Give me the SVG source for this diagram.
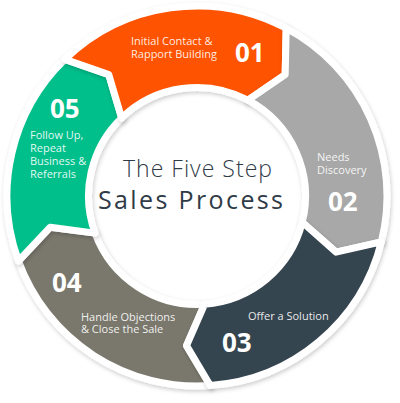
<svg xmlns="http://www.w3.org/2000/svg" width="400" height="403" viewBox="0 0 400 403">
<style>
.seg{stroke:#fff;stroke-width:7;stroke-linejoin:round}
.lbl{font-family:"Open Sans","Liberation Sans",sans-serif;font-size:11px;fill:#fff;fill-opacity:0.9}
.num{font-family:"Open Sans","Liberation Sans",sans-serif;font-size:26px;font-weight:bold;fill:#fff}
.title{font-family:"Open Sans","Liberation Sans",sans-serif;fill:#2f3b47}
</style>
<defs>
<filter id="sh" x="-10%" y="-10%" width="120%" height="120%">
<feDropShadow dx="1" dy="2" stdDeviation="2" flood-color="#000" flood-opacity="0.2"/>
</filter>
</defs>
<rect width="400" height="403" fill="#fff"/>
<g id="step04" filter="url(#sh)">
<path class="seg" fill="#7a786d" d="M 210.26 385.54 A 190 190 0 0 1 18.46 260.98 L 50.28 227.19 L 95.04 233.11 A 108.5 108.5 0 0 0 204.57 304.24 L 186.53 345.64 Z"/>
</g>
<g id="step05" filter="url(#sh)">
<path class="seg" fill="#05bf8b" d="M 18.46 260.98 A 190 190 0 0 1 65.01 59.33 L 108.83 74.65 L 121.63 117.96 A 108.5 108.5 0 0 0 95.04 233.11 L 50.28 227.19 Z"/>
</g>
<g id="step01" filter="url(#sh)">
<path class="seg" fill="#fe5200" d="M 65.01 59.33 A 190 190 0 0 1 286.21 28.25 L 285.17 74.65 L 247.94 100.21 A 108.5 108.5 0 0 0 121.63 117.96 L 108.83 74.65 Z"/>
</g>
<g id="step02" filter="url(#sh)">
<path class="seg" fill="#a8a8a8" d="M 286.21 28.25 A 190 190 0 0 1 381.36 241.96 L 336.08 252.19 L 302.28 222.25 A 108.5 108.5 0 0 0 247.94 100.21 L 285.17 74.65 Z"/>
</g>
<g id="step03" filter="url(#sh)">
<path class="seg" fill="#364450" d="M 381.36 241.96 A 190 190 0 0 1 210.26 385.54 L 186.53 345.64 L 204.57 304.24 A 108.5 108.5 0 0 0 302.28 222.25 L 336.08 252.19 Z"/>
</g>
<g id="labels">
<text class="lbl" x="131" y="45">Initial Contact &amp;</text>
<text class="lbl" x="131" y="58">Rapport Building</text>
<text class="num" x="235" y="62">01</text>
<text class="lbl" x="317" y="161">Needs</text>
<text class="lbl" x="317" y="174">Discovery</text>
<text class="num" x="328" y="211">02</text>
<text class="lbl" x="248" y="320">Offer a Solution</text>
<text class="num" x="222" y="352">03</text>
<text class="num" x="52" y="292">04</text>
<text class="lbl" x="81" y="321">Handle Objections</text>
<text class="lbl" x="81" y="333">&amp; Close the Sale</text>
<text class="num" x="50" y="118">05</text>
<text class="lbl" x="30" y="139">Follow Up,</text>
<text class="lbl" x="30" y="152">Repeat</text>
<text class="lbl" x="30" y="165">Business &amp;</text>
<text class="lbl" x="30" y="178">Referrals</text>
</g>
<g id="title">
<text class="title" x="123" y="177" font-size="23" font-weight="300" letter-spacing="1" textLength="150">The Five Step</text>
<text class="title" x="98" y="209" font-size="25" font-weight="500" textLength="185">Sales Process</text>
</g>
</svg>
